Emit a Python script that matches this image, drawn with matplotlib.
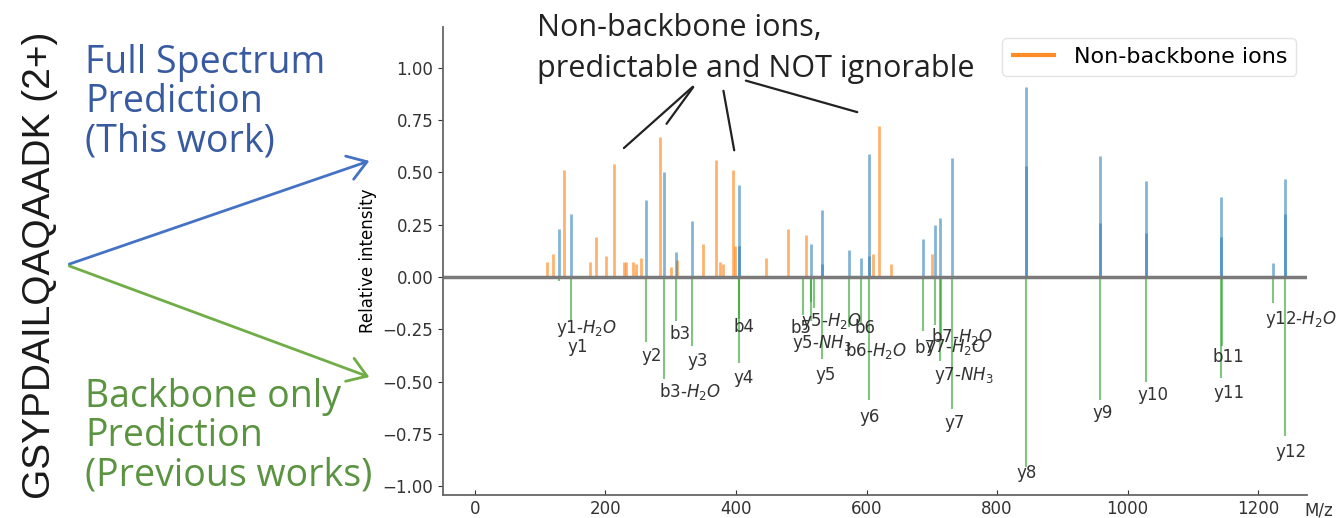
import matplotlib.pyplot as plt
from matplotlib.patches import FancyArrowPatch

# backbone ions of GSYPDAILQAQAADK (2+)
ion_names = ["y1-H2O", "y1", "y2", "b3-H2O", "b3", "y3", "y4", "b4", "b5-H2O",
             "y5-H2O", "y5-NH3", "b5", "y5", "b6-H2O", "b6", "y6", "b7-H2O", "b7",
             "y7-H2O", "y7-NH3", "y7", "y8", "y9", "y10", "y11", "b11", "y12-H2O", "y12"]
ion_mz = [129.10, 147.11, 262.14, 290.11, 308.12, 333.18, 404.21, 405.18, 502.19,
          514.26, 515.24, 520.20, 532.27, 573.23, 591.24, 603.31, 686.32, 704.33,
          713.36, 714.34, 731.37, 844.45, 957.54, 1028.57, 1143.60, 1144.56, 1222.64, 1240.65]
# full spectrum prediction (upper half)
full_int = [0.23, 0.30, 0.37, 0.50, 0.12, 0.27, 0.44, 0.15, 0.0,
            0.0, 0.16, 0.0, 0.32, 0.13, 0.09, 0.59, 0.18, 0.25,
            0.28, 0.0, 0.57, 0.907, 0.579, 0.461, 0.384, 0.0, 0.066, 0.467]
# backbone only prediction (lower half, drawn negative)
backbone_int = [0.02, 0.21, 0.31, 0.49, 0.21, 0.33, 0.41, 0.20, 0.18,
                0.12, 0.21, 0.15, 0.39, 0.24, 0.23, 0.59, 0.26, 0.23,
                0.40, 0.30, 0.63, 0.91, 0.59, 0.50, 0.485, 0.33, 0.125, 0.76]

# second (darker) blue layer on some backbone peaks
overlay_mz = [532.27, 603.31, 844.45, 957.54, 1028.57, 1143.60, 1240.65]
overlay_int = [0.06, 0.10, 0.53, 0.26, 0.21, 0.19, 0.30]

# non-backbone ions
nb_mz = [111, 120, 137, 176, 185, 201, 213, 228, 232, 242,
         247, 255, 284, 300, 310, 350, 369, 375, 380, 396,
         398, 446, 479, 508, 610, 619, 637, 701]
nb_int = [0.07, 0.11, 0.51, 0.07, 0.19, 0.10, 0.54, 0.07, 0.07, 0.07,
          0.06, 0.09, 0.67, 0.05, 0.08, 0.16, 0.56, 0.07, 0.06, 0.51,
          0.15, 0.09, 0.23, 0.20, 0.11, 0.72, 0.06, 0.11]

# peak labels below the axis
label_text = ["y1-$H_2O$", "y1", "y2", "b3-$H_2O$", "b3", "y3", "b4", "y4", "b5",
              "y5-$H_2O$", "y5-$NH_3$", "b6", "b6-$H_2O$", "y5", "y6", "b7", "b7-$H_2O$",
              "y7-$H_2O$", "y7-$NH_3$", "y7", "y8", "y9", "y10", "b11", "y11",
              "y12-$H_2O$", "y12"]
label_x = [171, 157, 271, 330, 315, 341, 412, 412, 500,
           546, 531, 598, 614, 538, 604, 689, 747,
           737, 749, 735, 846, 962, 1039, 1155, 1155,
           1266, 1251]
label_y = [-0.245, -0.336, -0.38, -0.55, -0.273, -0.40, -0.24, -0.485, -0.245,
           -0.215, -0.318, -0.245, -0.35, -0.468, -0.67, -0.34, -0.285,
           -0.335, -0.47, -0.70, -0.94, -0.65, -0.565, -0.385, -0.556,
           -0.205, -0.835]

# pointer lines from the callout text (start, end) in data units
pointers = [((337, 0.919), (225, 0.608)),
            ((337, 0.919), (291, 0.722)),
            ((380, 0.904), (398, 0.593)),
            ((411, 0.943), (590, 0.785))]

W, H = 1339, 518
fig = plt.figure(figsize=(W / 100, H / 100), dpi=100)
ax = fig.add_axes([443 / W, 1 - 495 / H, (1307 - 443) / W, (495 - 27) / H])

ax.vlines(nb_mz, 0, nb_int, color="#ff7f0e", alpha=0.6, lw=2, label="Non-backbone ions")
ax.vlines(ion_mz, 0, full_int, color="#1f77b4", alpha=0.55, lw=2)
ax.vlines(overlay_mz, 0, overlay_int, color="#1f77b4", alpha=0.5, lw=2)
ax.vlines(ion_mz, 0, [-v for v in backbone_int], color="#2ca02c", alpha=0.6, lw=1.5)
ax.axhline(0, color="#7a7a7a", lw=2.5)

for t, x, y in zip(label_text, label_x, label_y):
    ax.text(x, y, t, ha="center", va="center", fontsize=12, color="#333333")

for start, end in pointers:
    ax.annotate("", xy=end, xytext=start, annotation_clip=False,
                arrowprops=dict(arrowstyle="-", color="#222222", lw=1.6))

ax.set_xlim(-49, 1275)
ax.set_ylim(-1.043, 1.196)
ax.set_xticks([0, 200, 400, 600, 800, 1000, 1200])
ax.set_yticks([-1.0, -0.75, -0.5, -0.25, 0.0, 0.25, 0.5, 0.75, 1.0])
ax.tick_params(axis="both", labelsize=12, colors="#333333")
ax.tick_params(axis="x", direction="in")
for s in ["top", "right"]:
    ax.spines[s].set_visible(False)
for s in ["left", "bottom"]:
    ax.spines[s].set_color("#666666")
    ax.spines[s].set_linewidth(1.3)
ax.set_ylabel("Relative intensity", fontsize=12, labelpad=4)
ax.annotate("M/z", xy=(1293, 0), xycoords=("data", "axes fraction"),
            xytext=(0, -4.9), textcoords="offset points", ha="center", va="top",
            fontsize=12, color="#333333", annotation_clip=False)

leg = ax.legend(loc="upper right", fontsize=16, frameon=True)
leg.get_frame().set_edgecolor("#dddddd")
for h in leg.legend_handles:
    h.set_alpha(0.9)
    h.set_linewidth(3)

# callout text
fig.text(537 / W, 1 - 13 / H, "Non-backbone ions,\npredictable and NOT ignorable",
         ha="left", va="top", fontsize=22, family="Open Sans", color="#222222",
         linespacing=1.5)

# left side
fig.text(40 / W, 1 - 265 / H, "GSYPDAILQAQAADK (2+)", rotation=90, ha="center",
         va="center", fontsize=28, family="Liberation Sans", color="#1a1a1a")
fig.text(85 / W, 1 - 44 / H, "Full Spectrum\nPrediction\n(This work)", ha="left",
         va="top", fontsize=27, family="Open Sans", color="#375aa0", linespacing=1.05)
fig.text(85 / W, 1 - 378 / H, "Backbone only\nPrediction\n(Previous works)", ha="left",
         va="top", fontsize=27, family="Open Sans", color="#5a9440", linespacing=1.05)

start = (66.7 / W, 1 - 265 / H)
fig.add_artist(FancyArrowPatch(start, (372 / W, 1 - 160 / H), transform=fig.transFigure,
                               arrowstyle="->,head_length=0.6,head_width=0.4",
                               mutation_scale=22, color="#4472c4", lw=2))
fig.add_artist(FancyArrowPatch(start, (372 / W, 1 - 378 / H), transform=fig.transFigure,
                               arrowstyle="->,head_length=0.6,head_width=0.4",
                               mutation_scale=22, color="#70ad47", lw=2))

fig.savefig("out.png", dpi=100)
